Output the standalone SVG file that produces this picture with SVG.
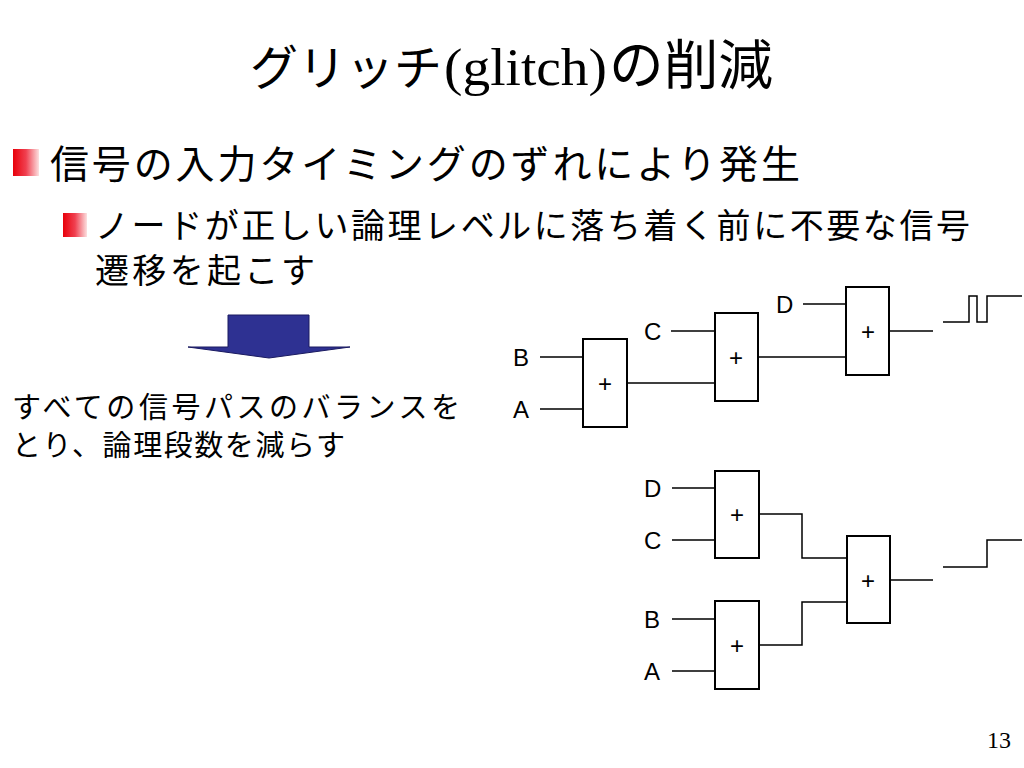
<svg xmlns="http://www.w3.org/2000/svg" width="1024" height="768" viewBox="0 0 1024 768">
<defs>
<linearGradient id="bul" x1="0" y1="0" x2="1" y2="0">
<stop offset="0" stop-color="#e8000a"/>
<stop offset="0.5" stop-color="#f04050"/>
<stop offset="1" stop-color="#fce0e0"/>
</linearGradient>
<style>
.jp{font-family:"Noto Sans CJK JP","Noto Sans CJK SC",sans-serif;fill:#000}
.tm{font-family:"Liberation Serif",serif;fill:#000}
.lb{font-family:"Liberation Sans",Arial,sans-serif;font-size:24px;fill:#000}
.pl{font-family:"Liberation Sans",Arial,sans-serif;font-size:24px;fill:#000;text-anchor:middle}
.box{fill:#fff;stroke:#000;stroke-width:2}
.w{fill:none;stroke:#000;stroke-width:1.5}
</style>
</defs>
<rect width="1024" height="768" fill="#fff"/>

<g id="title">
<text class="jp" x="250" y="85" font-size="48" textLength="192" lengthAdjust="spacingAndGlyphs">グリッチ</text>
<text class="tm" x="444" y="85" font-size="52" textLength="163" lengthAdjust="spacingAndGlyphs">(glitch)</text>
<text class="jp" x="609" y="85" font-size="54" textLength="164" lengthAdjust="spacingAndGlyphs">の削減</text>
</g>

<g id="bullets">
<rect x="13" y="149" width="26" height="27" fill="url(#bul)"/>
<text class="jp" x="50" y="178" font-size="39" textLength="750" lengthAdjust="spacing">信号の入力タイミングのずれにより発生</text>
<rect x="63" y="213" width="24" height="24" fill="url(#bul)"/>
<text class="jp" x="95" y="238" font-size="34" textLength="875" lengthAdjust="spacing">ノードが正しい論理レベルに落ち着く前に不要な信号</text>
<text class="jp" x="95" y="283" font-size="34" textLength="220" lengthAdjust="spacing">遷移を起こす</text>
</g>

<g id="arrow">
<polygon points="228,315 309,315 309,347 350,347 269,358 188,347 228,347" fill="#2e3192" stroke="#1a1a60" stroke-width="1"/>
</g>

<g id="summary">
<text class="jp" x="12" y="418" font-size="29" textLength="448" lengthAdjust="spacing">すべての信号パスのバランスを</text>
<text class="jp" x="12" y="456" font-size="29" textLength="333" lengthAdjust="spacing">とり、論理段数を減らす</text>
</g>

<g id="connectors">
<path class="w" d="M540,357H583 M540,409H583 M627,383H715 M671,331H715 M758,357H846 M803,304H846 M889,331H933"/>
<path class="w" d="M943,322H969V296H977V322H987V296H1022"/>
<path class="w" d="M672,488H715 M672,540H715 M672,619H715 M672,671H715 M759,514H802V558H847 M759,645H802V602H847 M890,580H933"/>
<path class="w" d="M943,567H987V540H1022"/>
</g>

<g id="labels">
<text class="lb" x="513" y="366">B</text>
<text class="lb" x="513" y="418">A</text>
<text class="lb" x="644" y="340">C</text>
<text class="lb" x="776" y="313">D</text>
<text class="lb" x="644" y="497">D</text>
<text class="lb" x="644" y="549">C</text>
<text class="lb" x="644" y="628">B</text>
<text class="lb" x="644" y="680">A</text>
</g>

<g id="add1"><rect class="box" x="583" y="339" width="44" height="88"/><text class="pl" x="605" y="392">+</text></g>
<g id="add2"><rect class="box" x="715" y="313" width="43" height="88"/><text class="pl" x="736" y="366">+</text></g>
<g id="add3"><rect class="box" x="846" y="287" width="43" height="88"/><text class="pl" x="868" y="340">+</text></g>
<g id="add4"><rect class="box" x="715" y="471" width="44" height="87"/><text class="pl" x="737" y="523">+</text></g>
<g id="add5"><rect class="box" x="715" y="601" width="44" height="88"/><text class="pl" x="737" y="654">+</text></g>
<g id="add6"><rect class="box" x="847" y="536" width="43" height="87"/><text class="pl" x="868" y="589">+</text></g>

<g id="page"><text class="tm" x="987" y="748" font-size="24">13</text></g>
</svg>
